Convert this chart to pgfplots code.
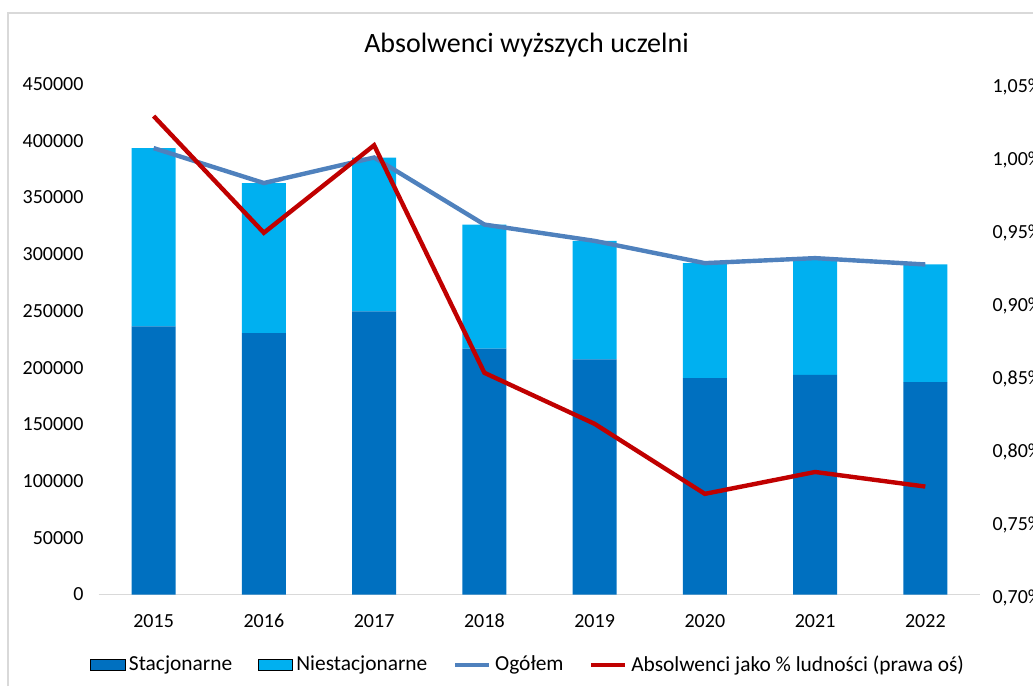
\documentclass[border=0pt]{standalone}
\usepackage{pgfplots}
\pgfplotsset{compat=1.18}
\usepackage{fontspec}
\setmainfont{Carlito}
\definecolor{cDark}{HTML}{0070C0}
\definecolor{cLight}{HTML}{00B0F0}
\definecolor{cTot}{HTML}{4F81BD}
\definecolor{cRed}{HTML}{C00000}
\begin{document}
\begin{tikzpicture}
\pgfplotsset{
  base/.style={
    scale only axis, width=441pt, height=255.25pt,
    at={(49.25pt,45.75pt)}, anchor=south west,
    xmin=-0.5, xmax=7.5,
    tick style={draw=none},
    /pgf/number format/assume math mode=true,
    /pgf/number format/fixed,
    /pgf/number format/1000 sep={},
    ticklabel style={font=\fontsize{10}{12}\selectfont},
  }
}
\begin{axis}[base,
  ybar stacked, bar width=22pt,
  ymin=0, ymax=450000,
  ytick={0,50000,100000,150000,200000,250000,300000,350000,400000,450000},
  yticklabels={0,50000,100000,150000,200000,250000,300000,350000,400000,450000},
  scaled y ticks=false,
  xtick={0,...,7},
  xticklabels={\strut 2015,\strut 2016,\strut 2017,\strut 2018,\strut 2019,\strut 2020,\strut 2021,\strut 2022},
  axis x line*=bottom, axis y line*=left,
  y axis line style={draw=none},
  x axis line style={draw=black!15, line width=0.8pt},
  y tick label style={xshift=-4pt},
  x tick label style={yshift=-4.5pt},
]
\addplot[fill=cDark, draw=none] coordinates {(0,236400) (1,230300) (2,249600) (3,216800) (4,207200) (5,190700) (6,193600) (7,187200)};
\addplot[fill=cLight, draw=none] coordinates {(0,157100) (1,132400) (2,135600) (3,109300) (4,104500) (5,101400) (6,102900) (7,103700)};
\end{axis}
\begin{axis}[base, hide axis,
  ymin=0, ymax=450000,
]
\addplot[cTot, line width=2.2pt] coordinates {(0,393500) (1,362700) (2,385200) (3,326100) (4,311700) (5,292100) (6,296500) (7,290900)};
\end{axis}
\begin{axis}[base,
  ymin=0.70, ymax=1.05,
  ytick={0.70,0.75,0.80,0.85,0.90,0.95,1.00,1.05},
  yticklabels={{0,70\%},{0,75\%},{0,80\%},{0,85\%},{0,90\%},{0,95\%},{1,00\%},{1,05\%}},
  xtick=\empty,
  axis x line=none, axis y line*=right,
  y axis line style={draw=none},
  y tick label style={xshift=2.5pt, yshift=-1.5pt},
  legend columns=4,
  legend cell align=left,
  legend style={draw=none, fill=none, inner sep=0pt,
    at={(-0.0096,-0.138)}, anchor=west,
    font=\fontsize{10.7}{12}\selectfont,
    nodes={inner xsep=1.8pt},
    /tikz/every even column/.style={column sep=11pt}},
]
\addlegendimage{area legend, fill=cDark, draw=none}
\addlegendentry{Stacjonarne}
\addlegendimage{area legend, fill=cLight, draw=none}
\addlegendentry{Niestacjonarne}
\addlegendimage{cTot, line width=2.2pt}
\addlegendentry{Ogółem}
\addplot[cRed, line width=2.2pt] coordinates {(0,1.028) (1,0.948) (2,1.008) (3,0.852) (4,0.817) (5,0.769) (6,0.784) (7,0.774)};
\addlegendentry{Absolwenci jako \% ludności (prawa oś)}
\end{axis}
\node[anchor=base, font=\fontsize{14}{17}\selectfont] at (263.25pt,316.6pt) {Absolwenci wyższych uczelni};
\draw[black!15, line width=0.8pt] (4pt,0pt) -- (4pt,336.6pt) -- (516.5pt,336.6pt);
\pgfresetboundingbox
\path[use as bounding box] (0pt,0pt) rectangle (516.5pt,343pt);
\end{tikzpicture}
\end{document}
